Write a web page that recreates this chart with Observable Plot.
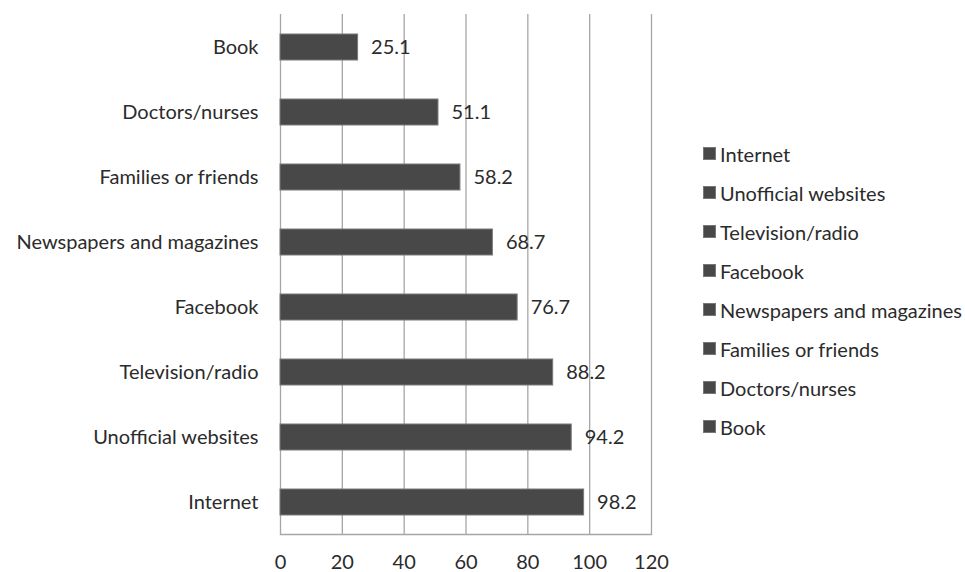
<!DOCTYPE html>
<html>
<head>
<meta charset="utf-8">
<script src="https://cdn.jsdelivr.net/npm/d3@7"></script>
<script src="https://cdn.jsdelivr.net/npm/@observablehq/plot@0.6"></script>
<style>
  html, body { margin: 0; padding: 0; background: #fff; }
  #wrap { width: 965px; height: 572px; position: relative; }
  #legend { position: absolute; left: 703px; top: 134px; font-family: Lato, "Open Sans", sans-serif; font-size: 20px; color: #2b2b2b; }
  #legend .row { display: flex; align-items: center; height: 39px; }
  #legend .sw { width: 13px; height: 13px; background: #484848; margin-right: 4px; border: 1px solid #777; box-sizing: border-box; }
</style>
</head>
<body>
<div id="wrap"><div id="chart"></div><div id="legend"></div></div>
<script>
const categories = ["Book", "Doctors/nurses", "Families or friends", "Newspapers and magazines", "Facebook", "Television/radio", "Unofficial websites", "Internet"];
const values = [25.1, 51.1, 58.2, 68.7, 76.7, 88.2, 94.2, 98.2];
const xTicks = [0, 20, 40, 60, 80, 100, 120];
const legendOrder = ["Internet", "Unofficial websites", "Television/radio", "Facebook", "Newspapers and magazines", "Families or friends", "Doctors/nurses", "Book"];

const data = categories.map((c, i) => ({category: c, value: values[i]}));

const chart = Plot.plot({
  width: 690,
  height: 572,
  marginLeft: 280,
  marginRight: 39,
  marginTop: 14,
  marginBottom: 38,
  style: {fontFamily: "Lato, 'Open Sans', sans-serif", fontSize: "20px", color: "#2b2b2b", background: "#fff"},
  x: {domain: [0, 120], ticks: xTicks, label: null, tickSize: 0, tickPadding: 20},
  y: {domain: categories, paddingInner: 0.6, paddingOuter: 0.3, label: null, tickSize: 0, tickPadding: 22},
  marks: [
    Plot.ruleX(xTicks, {stroke: "#a6a6a6", strokeWidth: 1.3}),
    Plot.frame({anchor: "bottom", stroke: "#a6a6a6", strokeWidth: 1.3}),
    Plot.barX(data, {x: "value", y: "category", fill: "#484848", stroke: "#7a7a7a", strokeWidth: 1}),
    Plot.text(data, {x: "value", y: "category", text: d => d.value.toFixed(1), textAnchor: "start", dx: 13, fill: "#2b2b2b", fontSize: 20})
  ]
});
document.getElementById("chart").appendChild(chart);

const lg = document.getElementById("legend");
legendOrder.forEach(name => {
  const r = document.createElement("div");
  r.className = "row";
  r.innerHTML = `<span class="sw"></span><span>${name}</span>`;
  lg.appendChild(r);
});
</script>
</body>
</html>
